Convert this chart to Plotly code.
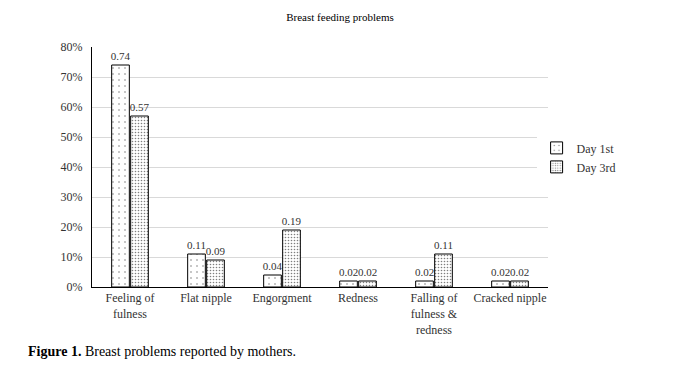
import plotly.graph_objects as go

categories = ["Feeling of<br>fulness", "Flat nipple", "Engorgment", "Redness",
              "Falling of<br>fulness &<br>redness", "Cracked nipple"]
day1 = [0.74, 0.11, 0.04, 0.02, 0.02, 0.02]
day3 = [0.57, 0.09, 0.19, 0.02, 0.11, 0.02]
series_names = ["Day 1st", "Day 3rd"]
y_ticks = [0, 0.1, 0.2, 0.3, 0.4, 0.5, 0.6, 0.7, 0.8]

FONT = "Liberation Serif, Times New Roman, serif"
TXT = "#333333"

fig = go.Figure()
for name, vals, size, sol in [(series_names[0], day1, 6, 0.06), (series_names[1], day3, 3, 0.22)]:
    fig.add_trace(go.Bar(
        x=categories, y=vals, name=name,
        marker=dict(color="white", line=dict(color="black", width=1),
                    pattern=dict(shape=".", fgcolor="black", bgcolor="white",
                                 size=size, solidity=sol, fillmode="overlay")),
        text=[f"{v:.2f}" for v in vals], textposition="outside",
        constraintext="none",
        textfont=dict(family=FONT, size=11, color=TXT),
        cliponaxis=False,
    ))

fig.update_layout(
    width=680, height=370,
    margin=dict(l=92, r=132, t=47, b=83),
    paper_bgcolor="white", plot_bgcolor="white",
    barmode="group", bargap=0.5, bargroupgap=0.07,
    font=dict(family=FONT, size=12, color=TXT),
    title=dict(text="Breast feeding problems", x=0.5, xref="container", y=0.955, yref="container",
               xanchor="center", yanchor="middle",
               font=dict(family=FONT, size=11, color="black")),
    legend=dict(x=0.975, y=0.54, xanchor="left", yanchor="middle",
                font=dict(family=FONT, size=12, color=TXT),
                itemwidth=30, tracegroupgap=2),
    showlegend=True,
)
fig.update_yaxes(range=[0, 0.8], tickvals=y_ticks, tickformat=".0%",
                 showgrid=True, gridcolor="#d9d9d9", gridwidth=1,
                 showline=True, linecolor="black", linewidth=1,
                 ticks="", ticklen=0, zeroline=False, ticklabelstandoff=6,
                 tickfont=dict(family=FONT, size=12, color=TXT))
fig.update_xaxes(showline=True, linecolor="black", linewidth=1, ticks="",
                 tickfont=dict(family=FONT, size=12, color=TXT))

fig.add_annotation(text="<b>Figure 1.</b> Breast problems reported by mothers.",
                   xref="paper", yref="paper", x=-0.145, y=-0.27, xanchor="left", yanchor="middle",
                   showarrow=False, font=dict(family=FONT, size=14, color="black"))

fig.write_html("out.html")
